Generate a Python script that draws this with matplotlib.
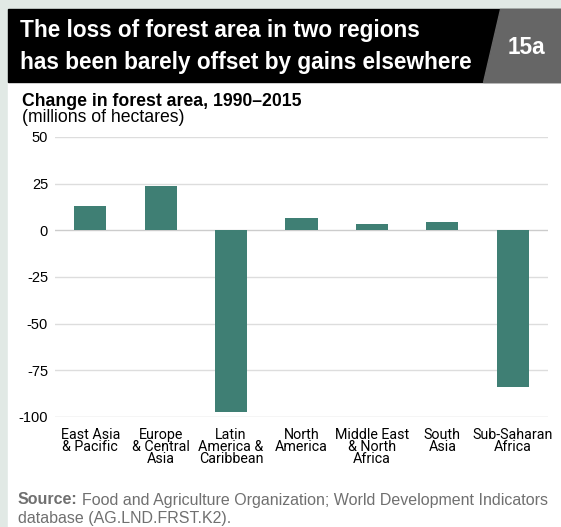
import matplotlib
matplotlib.use("Agg")
import matplotlib.pyplot as plt
from matplotlib.patches import Rectangle, Polygon

# data
regions = ["East Asia\n& Pacific", "Europe\n& Central\nAsia", "Latin\nAmerica &\nCaribbean",
           "North\nAmerica", "Middle East\n& North\nAfrica", "South\nAsia", "Sub-Saharan\nAfrica"]
change = [12.8, 23.5, -97.5, 6.4, 3.2, 4.3, -84.0]
yticks = [50, 25, 0, -25, -50, -75, -100]

W, H = 561, 527
bar_col = "#3f7f74"
plt.rcParams["font.family"] = ["Liberation Sans", "DejaVu Sans"]

fig = plt.figure(figsize=(W / 100, H / 100), dpi=100, facecolor="#e1e9e5")

def px(x, y):
    # pixel coords (top-left origin) -> figure fraction
    return x / W, 1 - y / H

# panels
fig.patches.append(Rectangle(px(8, 527), (W - 8) / W, (527 - 82) / H,
                             transform=fig.transFigure, color="white", zorder=-3))
fig.patches.append(Rectangle(px(8, 82), (W - 8) / W, (82 - 9) / H,
                             transform=fig.transFigure, color="black", zorder=-3))
fig.patches.append(Polygon([px(500, 9), px(561, 9), px(561, 82), px(483, 82)],
                           closed=True, transform=fig.transFigure, color="#666666", zorder=-2))

fig.text(*px(20, 31), "The loss of forest area in two regions", color="white",
         fontsize=16.3, fontweight="bold", va="center", ha="left")
fig.text(*px(20, 63), "has been barely offset by gains elsewhere", color="white",
         fontsize=16.3, fontweight="bold", va="center", ha="left")
fig.text(*px(526, 47), "15a", color="white", fontsize=16.3, fontweight="bold",
         va="center", ha="center")

fig.text(*px(22, 101), "Change in forest area, 1990\u20132015", fontsize=12.7,
         fontweight="bold", va="center", ha="left")
fig.text(*px(22, 117), "(millions of hectares)", fontsize=12.7, va="center", ha="left")

x0, y0 = px(55, 417)
x1, y1 = px(548, 137)
ax = fig.add_axes([x0, y0, x1 - x0, y1 - y0])
ax.set_facecolor("none")
pos = list(range(len(regions)))
ax.bar(pos, change, width=0.455, color=bar_col, zorder=3)
ax.set_xlim(-0.5, 6.5)
ax.set_ylim(-100, 50)
ax.set_yticks(yticks)
ax.set_yticklabels([str(t) for t in yticks], fontsize=10.5)
for t in yticks:
    ax.axhline(t, color="#cccccc" if t in (0, -100) else "#dddddd", lw=1, zorder=1)
ax.set_xticks(pos)
ax.set_xticklabels(regions, fontsize=10.3, family=["Roboto", "DejaVu Sans"],
                   linespacing=0.82, va="top")
ax.tick_params(axis="y", length=0, pad=5)
ax.tick_params(axis="x", length=0, pad=8)
for s in ax.spines.values():
    s.set_visible(False)

src = fig.text(*px(18, 500), "Source:", fontsize=11.5, fontweight="bold", color="#707070",
               va="center", ha="left")
r = fig.canvas.get_renderer()
bb = src.get_window_extent(renderer=r)
fig.text(bb.x1 / W + 4 / W, px(0, 500)[1],
         "Food and Agriculture Organization; World Development Indicators",
         fontsize=11.5, color="#707070", va="center", ha="left")
fig.text(*px(18, 518), "database (AG.LND.FRST.K2).", fontsize=11.5, color="#707070",
         va="center", ha="left")

fig.savefig("out.png", dpi=100, facecolor=fig.get_facecolor())
